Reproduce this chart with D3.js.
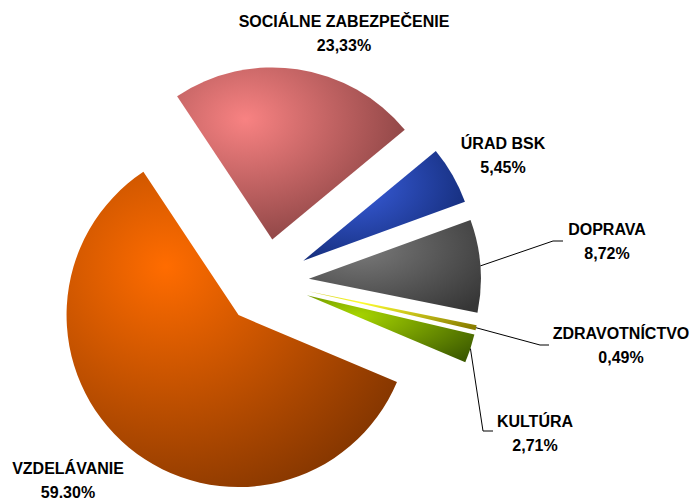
<!DOCTYPE html>
<html>
<head>
<meta charset="utf-8">
<script src="https://cdn.jsdelivr.net/npm/d3@7"></script>
<style>
body { margin:0; background:#fff; }
.lbl { font-family: "Liberation Sans Narrow","Arial Narrow","Liberation Sans",Arial,sans-serif; font-weight:bold; font-size:16px; fill:#000; }
</style>
</head>
<body>
<div id="chart"></div>
<script>
// data
var categories = ["SOCIÁLNE ZABEZPEČENIE","ÚRAD BSK","DOPRAVA","ZDRAVOTNÍCTVO","KULTÚRA","VZDELÁVANIE"];
var values = [23.33, 5.45, 8.72, 0.49, 2.71, 59.30];
var valueLabels = ["23,33%","5,45%","8,72%","0,49%","2,71%","59.30%"];

// colours: light / dark per slice
var lightCols = ["#f88282","#3a5fe0","#7a7a7a","#ffff30","#a6d400","#ff6c00"];
var darkCols  = ["#763838","#0e2468","#363636","#8a7e00","#3c5a00","#773000"];

// label layout (text centre x, first baseline y) and leader elbow
var labelPos = [[344,27],[503,149],[607,235],[621,339],[535,427],[68,474]];
var leaders = [null,null,[[553,241],[563,241]],[[540,345],[549,345]],[[483,431],[493,431]],null];

var w = 696, h = 501;
var cx = 266, cy = 282, r = 172, explode = 43;
var start = -33.6 * Math.PI / 180;

var svg = d3.select("#chart").append("svg")
  .attr("width", w).attr("height", h);

var defs = svg.append("defs");
categories.forEach(function(c, i) {
  var g = defs.append("radialGradient")
    .attr("id", "g" + i)
    .attr("cx", 0.3).attr("cy", 0.3).attr("r", 0.9);
  g.append("stop").attr("offset", "0%").attr("stop-color", lightCols[i]);
  g.append("stop").attr("offset", "100%").attr("stop-color", darkCols[i]);
});

var pie = d3.pie().sort(null).value(function(d){ return d; })
  .startAngle(start).endAngle(start + 2 * Math.PI);
var arcs = pie(values);

var arc = d3.arc().innerRadius(0).outerRadius(r);

function offset(d) {
  var a = (d.startAngle + d.endAngle) / 2;
  return [Math.sin(a) * explode, -Math.cos(a) * explode];
}

var g = svg.append("g").attr("transform", "translate(" + cx + "," + cy + ")");

g.selectAll("path")
  .data(arcs)
  .enter()
  .append("path")
  .attr("d", arc)
  .attr("fill", function(d, i){ return "url(#g" + i + ")"; })
  .attr("transform", function(d){ var o = offset(d); return "translate(" + o[0] + "," + o[1] + ")"; });

// leader lines
arcs.forEach(function(d, i) {
  if (!leaders[i]) return;
  var a = (d.startAngle + d.endAngle) / 2;
  var o = offset(d);
  var sx = cx + o[0] + Math.sin(a) * r, sy = cy + o[1] - Math.cos(a) * r;
  var pts = [[sx, sy]].concat(leaders[i]);
  svg.append("path")
    .attr("d", d3.line()(pts))
    .attr("fill", "none")
    .attr("stroke", "#000")
    .attr("stroke-width", 1);
});

// labels
var labels = svg.append("g").classed("labels", true);
categories.forEach(function(c, i) {
  var t = labels.append("text")
    .attr("class", "lbl")
    .attr("text-anchor", "middle")
    .attr("x", labelPos[i][0])
    .attr("y", labelPos[i][1]);
  t.append("tspan").attr("x", labelPos[i][0]).text(c);
  t.append("tspan").attr("x", labelPos[i][0]).attr("dy", 24).text(valueLabels[i]);
});
</script>
</body>
</html>
